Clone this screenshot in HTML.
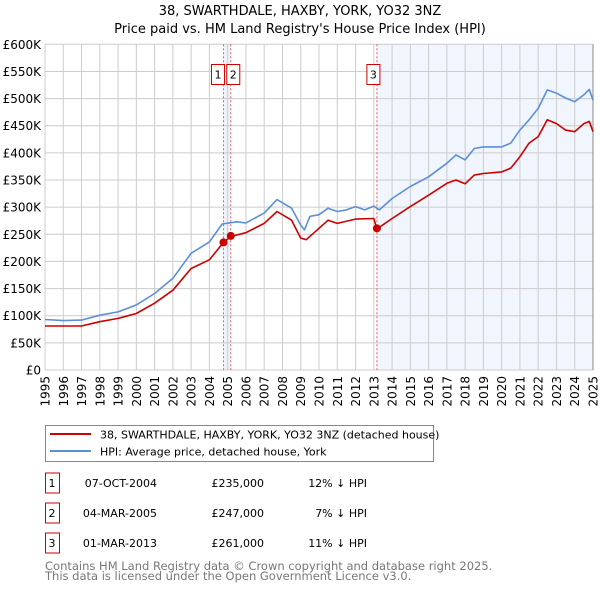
<!DOCTYPE html>
<html><head><meta charset="utf-8"><style>
body{margin:0;background:#fff;font-family:"DejaVu Sans","Liberation Sans",sans-serif;}
svg text{font-family:"DejaVu Sans","Liberation Sans",sans-serif;}
</style></head><body>
<svg id="chart" width="600" height="590" xmlns="http://www.w3.org/2000/svg">
<text x="300" y="15" text-anchor="middle" font-size="13">38, SWARTHDALE, HAXBY, YORK, YO32 3NZ</text>
<text x="300" y="33" text-anchor="middle" font-size="13">Price paid vs. HM Land Registry's House Price Index (HPI)</text>
<g id="plot"></g>
<g>
<rect x="45.5" y="425.5" width="388" height="36" fill="#fff" stroke="#888"/>
<line x1="50" y1="434" x2="91" y2="434" stroke="#cc0000" stroke-width="2"/>
<text x="100" y="438.5" font-size="11">38, SWARTHDALE, HAXBY, YORK, YO32 3NZ (detached house)</text>
<line x1="50" y1="451" x2="91" y2="451" stroke="#5b8fd6" stroke-width="2"/>
<text x="100" y="455.5" font-size="11">HPI: Average price, detached house, York</text>
</g>
<g id="table" font-size="11"></g>
<text x="45" y="570" font-size="11.5" fill="#777">Contains HM Land Registry data © Crown copyright and database right 2025.</text>
<text x="45" y="580" font-size="11.5" fill="#777">This data is licensed under the Open Government Licence v3.0.</text>
</svg>
<script>
const hpiYears=[1995,1996,1997,1998,1999,2000,2001,2002,2003,2004,2004.7,2005.5,2006,2007,2007.7,2008.5,2009,2009.2,2009.5,2010,2010.5,2011,2011.5,2012,2012.5,2013,2013.3,2014,2015,2016,2017,2017.5,2018,2018.5,2019,2020,2020.5,2021,2021.5,2022,2022.5,2023,2023.5,2024,2024.5,2024.8,2025];
const hpiValues=[93,91,92,101,107,120,141,169,215,236,269,273,271,289,314,298,267,258,283,286,298,292,295,301,295,302,295,316,338,356,381,396,387,408,411,411,418,442,461,482,516,510,501,494,507,517,497];
const propYears=[1995,1997,1998,1999,2000,2001,2002,2003,2004,2004.77,2005.17,2006,2007,2007.7,2008.5,2009,2009.3,2010,2010.5,2011,2012,2013,2013.17,2014,2015,2016,2017,2017.5,2018,2018.5,2019,2020,2020.5,2021,2021.5,2022,2022.5,2023,2023.5,2024,2024.5,2024.8,2025];
const propValues=[81,81,89,95,104,123,147,187,203,235,246,253,270,292,276,243,240,261,276,270,278,279,260,279,301,322,344,350,343,359,362,365,372,393,418,430,461,454,442,439,454,458,439];
const saleYears=[2004.77,2005.17,2013.17];
const saleValues=[235,247,261];
const saleLabels=["1","2","3"];
const saleDates=["07-OCT-2004","04-MAR-2005","01-MAR-2013"];
const salePrices=["£235,000","£247,000","£261,000"];
const saleDiffs=["12% ↓ HPI","7% ↓ HPI","11% ↓ HPI"];
const yTicks=[0,50,100,150,200,250,300,350,400,450,500,550,600];
const yTickLabels=["£0","£50K","£100K","£150K","£200K","£250K","£300K","£350K","£400K","£450K","£500K","£550K","£600K"];
const xTicks=[1995,1996,1997,1998,1999,2000,2001,2002,2003,2004,2005,2006,2007,2008,2009,2010,2011,2012,2013,2014,2015,2016,2017,2018,2019,2020,2021,2022,2023,2024,2025];

const X0=45,X1=593,Y0=370,Y1=44.3;
const xs=y=>X0+(y-1995)/30*(X1-X0);
const ys=v=>Y0-v/600*(Y0-Y1);
const NS="http://www.w3.org/2000/svg";
const plot=document.getElementById('plot');
function mk(tag,attrs,parent){const e=document.createElementNS(NS,tag);for(const k in attrs)e.setAttribute(k,attrs[k]);(parent||plot).appendChild(e);return e;}

let r=mk('rect',{x:xs(saleYears[0]),y:Y1,width:xs(saleYears[1])-xs(saleYears[0]),height:Y0-Y1,fill:'#eef2fb'});


r=mk('rect',{x:xs(saleYears[2]),y:Y1,width:X1-xs(saleYears[2]),height:Y0-Y1,fill:'#f1f5fd'});



yTicks.forEach((t,i)=>{
 const l=mk('line',{x1:X0,x2:X1,y1:ys(t),y2:ys(t),stroke:'#ccc','stroke-width':1});
 
 
 const tx=mk('text',{x:X0-4,y:ys(t)+4.5,'text-anchor':'end','font-size':'12'});
 tx.textContent=yTickLabels[i];
 
 
});
xTicks.forEach(t=>{
 const l=mk('line',{x1:xs(t),x2:xs(t),y1:Y1,y2:Y0,stroke:'#ccc','stroke-width':1});
 
 
 const tx=mk('text',{x:0,y:0,'text-anchor':'end','font-size':'12',transform:`translate(${xs(t)+4.5},${Y0+6}) rotate(-90)`});
 tx.textContent=t;
 
 
});
let ax=mk('line',{x1:X1,x2:X1,y1:Y1,y2:Y0,stroke:'#888','stroke-width':1});



saleYears.forEach((s,i)=>{
 const l=mk('line',{x1:xs(s),x2:xs(s),y1:Y1,y2:Y0,stroke:'#e06060','stroke-width':1,'stroke-dasharray':'2,2'});
 
 
});

function path(xa,va,color,name){
 const d=xa.map((x,i)=>(i?'L':'M')+xs(x).toFixed(1)+','+ys(va[i]).toFixed(1)).join('');
 const p=mk('path',{d:d,fill:'none',stroke:color,'stroke-width':1.6,'stroke-linejoin':'round'});
 
 
}
path(hpiYears,hpiValues,'#5b8fd6','hpi-line');
path(propYears,propValues,'#cc0000','property-line');

saleYears.forEach((s,i)=>{
 const c=mk('circle',{cx:xs(s),cy:ys(saleValues[i]),r:4,fill:'#cc0000'});
 
 
 const bx=xs(s)+(i===0?-12:(i===1?-4:-10));
 const b=mk('rect',{x:bx,y:64.5,width:13,height:20,fill:'#fff',stroke:'#cc0000'});
 
 
 const t=mk('text',{x:bx+6.5,y:78.5,'text-anchor':'middle','font-size':'11'});
 t.textContent=saleLabels[i];
 
 
});

const tbl=document.getElementById('table');
saleLabels.forEach((lab,i)=>{
 const cy=483+i*30;
 const b=mk('rect',{x:45.5,y:cy-10,width:14,height:20,fill:'#fff',stroke:'#cc0000'},tbl);
 
 
 const cells=[[lab,52,'middle','table-row-number'],[saleDates[i],157,'end','table-date'],[salePrices[i],264,'end','table-price'],[saleDiffs[i],367,'end','table-hpi-diff']];
 cells.forEach(c=>{
  const t=mk('text',{x:c[1],y:cy+4,'text-anchor':c[2]},tbl);
  t.textContent=c[0];
  
  
 });
});
</script>
</body></html>
